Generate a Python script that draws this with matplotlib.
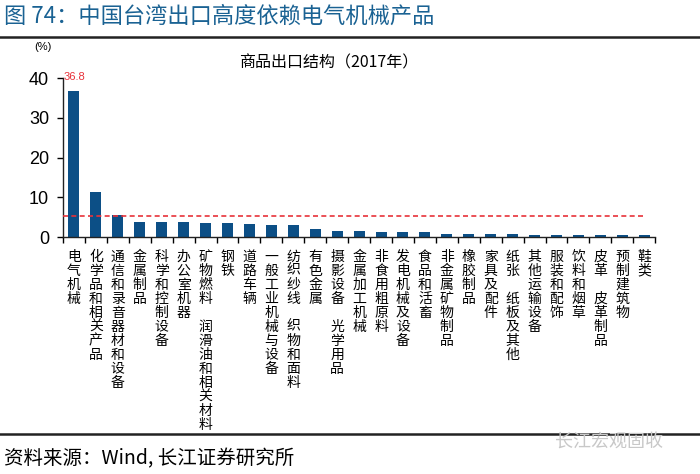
import matplotlib.pyplot as plt
import matplotlib as mpl

cats = ["电气机械", "化学品和相关产品", "通信和录音器材和设备", "金属制品", "科学和控制设备",
        "办公室机器", "矿物燃料 润滑油和相关材料", "钢铁", "道路车辆", "一般工业机械与设备",
        "纺织纱线 织物和面料", "有色金属", "摄影设备 光学用品", "金属加工机械", "非食用粗原料",
        "发电机械及设备", "食品和活畜", "非金属矿物制品", "橡胶制品", "家具及配件",
        "纸张 纸板及其他", "其他运输设备", "服装和配饰", "饮料和烟草", "皮革 皮革制品",
        "预制建筑物", "鞋类"]
vals = [36.8, 11.4, 5.6, 3.9, 3.9, 3.9, 3.6, 3.6, 3.4, 3.0, 3.0, 1.9, 1.6, 1.5, 1.3,
        1.3, 1.3, 0.8, 0.8, 0.8, 0.8, 0.4, 0.4, 0.4, 0.4, 0.4, 0.4]
ref_line = 5.3

mpl.rcParams['font.family'] = ['Noto Sans CJK SC', 'DejaVu Sans']
num_font = ['Liberation Sans', 'DejaVu Sans']

bar_col = '#0c4f86'
red = '#e8323a'
title_col = '#1a6293'

fig = plt.figure(figsize=(7, 4.74), dpi=100)
ax = fig.add_axes([0.09, 0.5, 0.846, 0.335])

x = list(range(len(cats)))
ax.bar(x, vals, width=0.5, color=bar_col, zorder=2)
ax.plot([-0.5, len(cats) - 1], [ref_line, ref_line], color=red, lw=1.2, ls=(0, (3, 2)), zorder=3)
ax.text(0, vals[0] + 2.2, '%.1f' % vals[0], color=red, fontsize=8, ha='center', va='bottom',
        family=num_font)

ax.set_xlim(-0.5, len(cats) - 0.5)
ax.set_ylim(0, 40)
ax.set_yticks([0, 10, 20, 30, 40])
ax.set_yticklabels(['0', '10', '20', '30', '40'], family=num_font, fontsize=13)
ax.tick_params(axis='y', direction='out', length=4, width=1, pad=6)

labels = ['\n'.join(c if c != ' ' else '\u3000' for c in s) for s in cats]
ax.set_xticks(x)
ax.set_xticklabels(labels, fontsize=10, linespacing=1.0, va='top')
ax.tick_params(axis='x', which='major', length=0, pad=9)
ax.set_xticks([i + 0.5 for i in range(-1, len(cats))], minor=True)
ax.tick_params(axis='x', which='minor', direction='out', length=4, width=1)

for s in ['top', 'right']:
    ax.spines[s].set_visible(False)
for s in ['left', 'bottom']:
    ax.spines[s].set_color('#222222')
    ax.spines[s].set_linewidth(1)

fig.text(0.005, 0.965, '图 74：中国台湾出口高度依赖电气机械产品', color=title_col,
         fontsize=16, ha='left', va='center')
fig.add_artist(plt.Line2D([0, 1], [0.922, 0.922], color='#222222', lw=1.8))
fig.text(0.47, 0.868, '商品出口结构（2017年）', fontsize=11.5, ha='center', va='center')
fig.text(0.062, 0.9, '(%)', fontsize=8, ha='center', va='center', family=num_font)
fig.add_artist(plt.Line2D([0, 1], [0.084, 0.084], color='#222222', lw=1.8))
fig.text(0.005, 0.033, '资料来源：Wind, 长江证券研究所', fontsize=14, ha='left', va='center')
fig.text(0.87, 0.068, '长江宏观固收', fontsize=13, ha='center', va='center', color='#c8c8c8')

fig.savefig('out.png', dpi=100)
